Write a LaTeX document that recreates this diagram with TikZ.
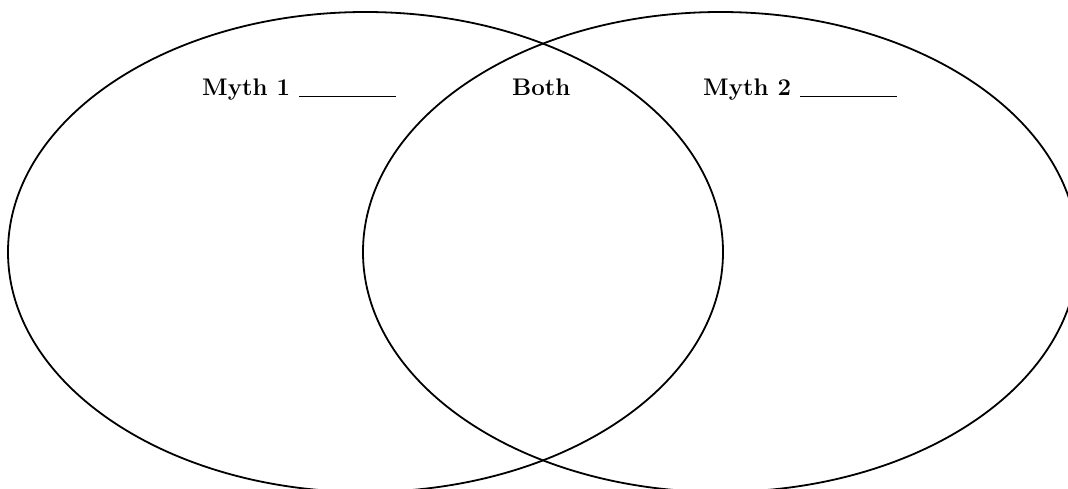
\documentclass[tikz,border=0pt]{standalone}
\usetikzlibrary{shapes.geometric}
\begin{document}
\begin{tikzpicture}[x=1pt,y=-1pt,
  venn/.style={draw=black, line width=1.8pt, ellipse, minimum width=715pt, minimum height=480pt, inner sep=0pt, outer sep=0pt},
  lbl/.style={anchor=base west, inner sep=0pt, font=\fontsize{24}{28}\selectfont\bfseries}]
\useasboundingbox (0,0) rectangle (1068,489);
\clip (0,0) rectangle (1068,489);
\fill[white] (0,0) rectangle (1068,489);
\node[venn] (left) at (365.5,252) {};
\node[venn] (right) at (720.5,252) {};
\node[lbl] (m1) at (202,96) {Myth 1 \rule[-1pt]{97pt}{1.4pt}};
\node[lbl] (both) at (512,96) {Both};
\node[lbl] (m2) at (703,96) {Myth 2 \rule[-1pt]{97pt}{1.4pt}};
\end{tikzpicture}
\end{document}
